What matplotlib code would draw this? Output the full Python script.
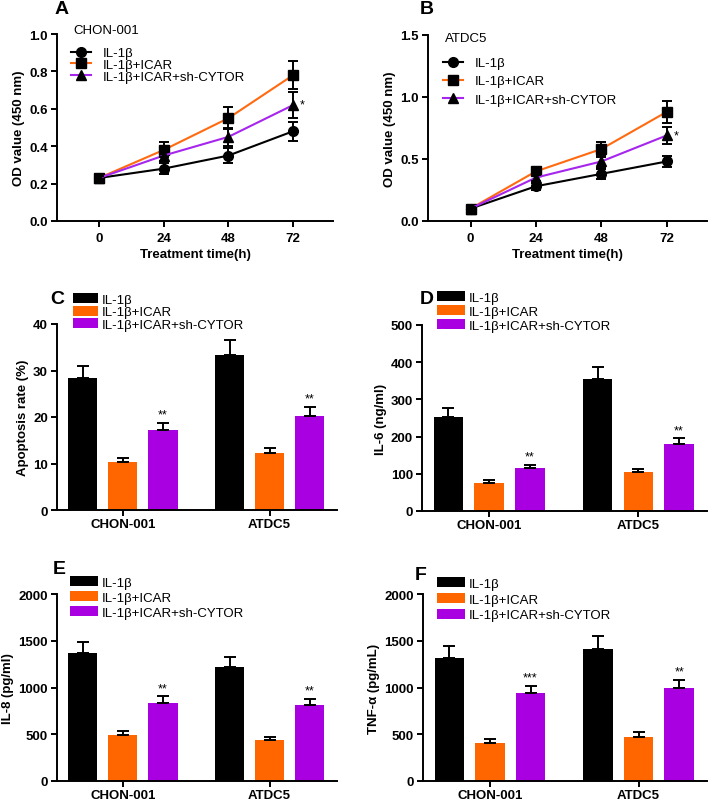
import matplotlib
matplotlib.use('Agg')
import matplotlib.pyplot as plt
import numpy as np

plt.rcParams['font.family'] = ['Liberation Sans', 'DejaVu Sans']

## data ##
groups = ['IL-1β', 'IL-1β+ICAR', 'IL-1β+ICAR+sh-CYTOR']
cells = ['CHON-001', 'ATDC5']
hours = [0, 24, 48, 72]

# panel A (CHON-001 CCK-8)
a_mean = [[0.23, 0.28, 0.35, 0.48],
          [0.23, 0.38, 0.55, 0.78],
          [0.23, 0.35, 0.45, 0.62]]
a_err = [[0.01, 0.03, 0.04, 0.05],
         [0.01, 0.04, 0.06, 0.075],
         [0.01, 0.03, 0.05, 0.07]]
# panel B (ATDC5 CCK-8)
b_mean = [[0.10, 0.28, 0.38, 0.48],
          [0.10, 0.40, 0.58, 0.88],
          [0.10, 0.35, 0.48, 0.69]]
b_err = [[0.01, 0.03, 0.04, 0.045],
         [0.01, 0.03, 0.06, 0.09],
         [0.01, 0.03, 0.05, 0.07]]

# bar panels: rows = groups, cols = cells
c_mean = [[28.3, 33.3], [10.3, 12.3], [17.3, 20.3]]
c_err = [[2.7, 3.3], [0.9, 1.0], [1.5, 1.9]]
d_mean = [[254, 354], [76, 106], [116, 179]]
d_err = [[24, 34], [6, 8], [9, 16]]
e_mean = [[1364, 1214], [493, 436], [839, 818]]
e_err = [[125, 115], [43, 35], [65, 64]]
f_mean = [[1311, 1414], [411, 471], [936, 993]]
f_err = [[128, 132], [35, 58], [82, 89]]

c_sig = ['**', '**']
d_sig = ['**', '**']
e_sig = ['**', '**']
f_sig = ['***', '**']

bar_colors = ['#000000', '#ff6600', '#a800e0']
line_colors = ['#000000', '#ff6a10', '#a626ee']
markers = ['o', 's', '^']

FS = 9.5

fig = plt.figure(figsize=(7.09, 8.03), dpi=100)
W, H = 709.0, 803.0


def axes_px(l, t, r, b):
    return fig.add_axes([l / W, 1 - b / H, (r - l) / W, (b - t) / H])


def style(ax):
    for s in ['top', 'right']:
        ax.spines[s].set_visible(False)
    for s in ['left', 'bottom']:
        ax.spines[s].set_linewidth(1.4)
    ax.tick_params(width=1.4, length=4.5, labelsize=FS)
    ax.tick_params(axis='y', pad=2)
    for lab in ax.get_xticklabels() + ax.get_yticklabels():
        lab.set_fontweight('bold')


def line_panel(ax, mean, err, ymax, yticks, ylabels, title, leg_xy, lspace, star_y):
    for i in range(3):
        ax.plot(hours, mean[i], color=line_colors[i], lw=1.5, marker=markers[i],
                ms=7, mfc='black', mec='black', label=groups[i], zorder=3)
        ax.errorbar(hours, mean[i], yerr=err[i], fmt='none', ecolor='black',
                    elinewidth=1.4, capsize=3.5, capthick=1.4, zorder=4)
    ax.set_xlim(-15.6, 86.8)
    ax.set_ylim(0, ymax)
    ax.set_xticks(hours)
    ax.set_yticks(yticks)
    ax.set_yticklabels(ylabels)
    ax.set_xlabel('Treatment time(h)', fontsize=FS, fontweight='bold', labelpad=3)
    ax.set_ylabel('OD value (450 nm)', fontsize=FS, fontweight='bold', labelpad=3)
    style(ax)
    ax.text(74.5, star_y, '*', fontsize=9, ha='left', va='center')
    ax.legend(loc='upper left', bbox_to_anchor=(leg_xy[0] / W, 1 - leg_xy[1] / H),
              bbox_transform=fig.transFigure, frameon=False, fontsize=FS,
              borderpad=0, borderaxespad=0, handlelength=1.5, handletextpad=0.9,
              labelspacing=lspace)
    fig.text((leg_xy[0] + 2) / W, 1 - title[1] / H, title[0], fontsize=FS,
             ha='left', va='center')


def bar_panel(ax, mean, err, sig, ymax, yticks, ylabel, leg_xy, lspace, hlen):
    x = np.arange(len(cells))
    pitch = 0.273
    width = 0.198
    for i in range(3):
        xs = x + (i - 1) * pitch
        ax.bar(xs, mean[i], width, color=bar_colors[i], label=groups[i], zorder=2)
        ax.errorbar(xs, mean[i], yerr=[[0, 0], err[i]], fmt='none', ecolor='black',
                    elinewidth=1.4, capsize=4, capthick=1.4, zorder=3)
    for j in range(len(cells)):
        top = mean[2][j] + err[2][j]
        ax.text(x[j] + pitch, top + ymax * 0.012, sig[j], fontsize=9,
                ha='center', va='bottom')
    ax.set_xlim(-0.45, 1.46)
    ax.set_ylim(0, ymax)
    ax.set_xticks(x)
    ax.set_xticklabels(cells)
    ax.set_yticks(yticks)
    ax.set_ylabel(ylabel, fontsize=FS, fontweight='bold', labelpad=3)
    style(ax)
    ax.tick_params(axis='x', pad=1)
    ax.legend(loc='upper left', bbox_to_anchor=(leg_xy[0] / W, 1 - leg_xy[1] / H),
              bbox_transform=fig.transFigure, frameon=False, fontsize=FS,
              borderpad=0, borderaxespad=0, handlelength=hlen, handleheight=0.8,
              handletextpad=0.3, labelspacing=lspace)


axA = axes_px(57, 35, 333, 222)
line_panel(axA, a_mean, a_err, 1.0, [0, 0.2, 0.4, 0.6, 0.8, 1.0],
           ['0.0', '0.2', '0.4', '0.6', '0.8', '1.0'],
           ('CHON-001', 31), (71, 48), -0.04, 0.625)

axB = axes_px(428, 36, 707, 222)
line_panel(axB, b_mean, b_err, 1.5, [0, 0.5, 1.0, 1.5],
           ['0.0', '0.5', '1.0', '1.5'],
           ('ATDC5', 39), (443, 58), 0.45, 0.69)

axC = axes_px(57, 325, 337, 511)
bar_panel(axC, c_mean, c_err, c_sig, 40, [0, 10, 20, 30, 40],
          'Apoptosis rate (%)', (73, 294), 0.0, 1.9)

axD = axes_px(422, 326, 707, 512)
bar_panel(axD, d_mean, d_err, d_sig, 500, [0, 100, 200, 300, 400, 500],
          'IL-6 (ng/ml)', (437, 292), 0.1, 2.1)

axE = axes_px(57, 595, 337, 782)
bar_panel(axE, e_mean, e_err, e_sig, 2000, [0, 500, 1000, 1500, 2000],
          'IL-8 (pg/ml)', (70, 577), 0.18, 2.1)

axF = axes_px(423, 595, 707, 782)
bar_panel(axF, f_mean, f_err, f_sig, 2000, [0, 500, 1000, 1500, 2000],
          'TNF-α (pg/mL)', (437, 578), 0.25, 2.1)

## panel letters ##
letters = [('A', 55, 10), ('B', 420, 10), ('C', 50, 300), ('D', 420, 300),
           ('E', 53, 570), ('F', 415, 576)]
for t, px, py in letters:
    fig.text(px / W, 1 - py / H, t, fontsize=14, fontweight='bold', ha='left', va='center')

fig.savefig('out.png', dpi=100)
